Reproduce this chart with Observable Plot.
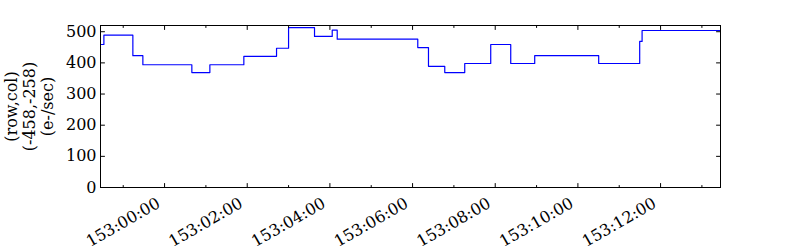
<!DOCTYPE html>
<html><head><meta charset="utf-8">
<script src="https://cdn.jsdelivr.net/npm/d3@7"></script>
<script src="https://cdn.jsdelivr.net/npm/@observablehq/plot@0.6"></script>
<style>body{margin:0;background:#fff} svg text{font-family:"DejaVu Serif",serif}</style>
</head><body><div id="chart"></div>
<script>
// step start times (units relative to 153:00:00) and values (e-/sec)
const stepTimes = [-1.53, -1.468, -0.767, -0.525, 0.660, 1.096, 1.918, 2.709, 3.000, 3.628, 4.056, 4.177, 6.126, 6.385, 6.779, 7.262, 7.891, 8.375, 8.955, 10.503, 11.495, 11.553];
const stepValues = [459, 489, 423, 394, 369, 394, 421, 447, 513, 485, 505, 476, 449, 389, 369, 398, 459, 398, 423, 398, 469, 504];
const endTime = 13.45;
const xDomain = [-1.55, 13.45];
const yDomain = [0, 520];
const majorTicks = [0, 2, 4, 6, 8, 10, 12];
const minorTicks = [-1, 1, 3, 5, 7, 9, 11, 13];
const yTicks = [0, 100, 200, 300, 400, 500];
const yLabel = "(row,col)\n(-458,-258)\n(e-/sec)";

const data = stepTimes.map((t, i) => ({t, v: stepValues[i]}));
data.push({t: endTime, v: stepValues[stepValues.length - 1]});

const fmt = d => `153:${String(d).padStart(2, "0")}:00`;
const tickShape = {draw(ctx, l) { ctx.moveTo(0, 0); ctx.lineTo(0, -l); }};
const tk = (arr, opts) => Plot.vector(arr, {shape: tickShape, anchor: "start", stroke: "black", strokeWidth: 1, ...opts});
const FS = 16;

const chart = Plot.plot({
  width: 800, height: 250,
  marginLeft: 100, marginRight: 80, marginTop: 25, marginBottom: 63,
  style: {fontFamily: "DejaVu Serif", fontSize: FS + "px", background: "white", color: "black"},
  x: {domain: xDomain, axis: null},
  y: {domain: yDomain, axis: null},
  marks: [
    Plot.line(data, {x: "t", y: "v", curve: "step-after", stroke: "#0000ff", strokeWidth: 1.2}),
    tk(majorTicks, {x: d => d, y: yDomain[0], length: 4, rotate: 0}),
    tk(minorTicks, {x: d => d, y: yDomain[0], length: 2, rotate: 0}),
    tk(majorTicks, {x: d => d, y: yDomain[1], length: 4, rotate: 180}),
    tk(minorTicks, {x: d => d, y: yDomain[1], length: 2, rotate: 180}),
    tk(yTicks, {x: xDomain[0], y: d => d, length: 4, rotate: 90}),
    tk(yTicks, {x: xDomain[1], y: d => d, length: 4, rotate: -90}),
    Plot.frame({stroke: "black", strokeWidth: 1}),
    Plot.text(yTicks, {x: xDomain[0], y: d => d, text: d => String(d), textAnchor: "end", dx: -4, fontSize: FS, fontFamily: "DejaVu Serif"}),
    Plot.text(majorTicks, {x: d => d, frameAnchor: "bottom", text: fmt, rotate: -30, textAnchor: "end", lineAnchor: "top", dx: -9, dy: 9, fontSize: FS, fontFamily: "DejaVu Serif"}),
    Plot.text([yLabel], {frameAnchor: "left", text: d => d, rotate: -90, textAnchor: "middle", lineAnchor: "middle", lineHeight: 1.13, dx: -71, fontSize: FS, fontFamily: "DejaVu Serif"})
  ]
});
document.getElementById("chart").append(chart);
</script>
</body></html>
